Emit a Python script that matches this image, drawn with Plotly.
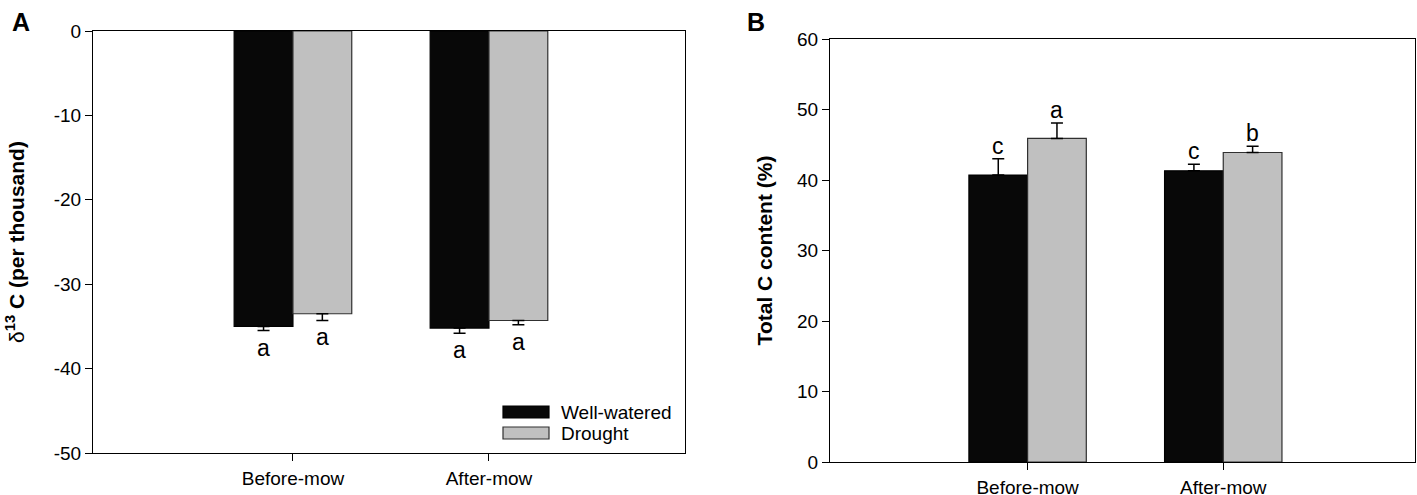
import plotly.graph_objects as go

# data
periods = ["Before-mow", "After-mow"]
treatments = ["Well-watered", "Drought"]

d13c_well = [-35.0, -35.2]
d13c_well_err = [0.5, 0.6]
d13c_drought = [-33.5, -34.3]
d13c_drought_err = [0.8, 0.5]
d13c_letters_well = ["a", "a"]
d13c_letters_drought = ["a", "a"]
d13c_ticks = [0, -10, -20, -30, -40, -50]

totc_well = [40.7, 41.3]
totc_well_err = [2.3, 0.95]
totc_drought = [45.9, 43.9]
totc_drought_err = [2.2, 0.9]
totc_letters_well = ["c", "c"]
totc_letters_drought = ["a", "b"]
totc_ticks = [0, 10, 20, 30, 40, 50, 60]

BLACK = "#080808"
GREY = "#c0c0c0"
FONT = "Liberation Sans, Arial"
W, H = 1417, 495


def px(x):
    return x / W


def py(y):
    return 1 - y / H


xs = list(range(len(periods)))

fig = go.Figure()


def add_bars(xaxis, yaxis, well, well_err, drought, drought_err, down):
    # one-sided error bars: down for negative values, up for positive
    for vals, errs, col, line_col in [(well, well_err, BLACK, "#000000"),
                                      (drought, drought_err, GREY, "#303030")]:
        if down:
            ey = dict(type="data", symmetric=False, array=[0] * len(errs),
                      arrayminus=errs, color="black", thickness=1.5, width=6)
        else:
            ey = dict(type="data", symmetric=False, array=errs,
                      arrayminus=[0] * len(errs), color="black", thickness=1.5, width=6)
        fig.add_trace(go.Bar(
            x=xs, y=vals, error_y=ey,
            marker=dict(color=col, line=dict(color=line_col, width=1.2)),
            xaxis=xaxis, yaxis=yaxis, showlegend=False,
        ))


add_bars("x", "y", d13c_well, d13c_well_err, d13c_drought, d13c_drought_err, True)
add_bars("x2", "y2", totc_well, totc_well_err, totc_drought, totc_drought_err, False)

letter_font = dict(family=FONT, size=23, color="black")
annots = []
# significance letters
for i in xs:
    annots.append(dict(x=i - 0.15, y=d13c_well[i] - d13c_well_err[i], xref="x", yref="y",
                       text=d13c_letters_well[i], showarrow=False, yanchor="top", yshift=-2,
                       font=letter_font))
    annots.append(dict(x=i + 0.15, y=d13c_drought[i] - d13c_drought_err[i], xref="x", yref="y",
                       text=d13c_letters_drought[i], showarrow=False, yanchor="top", yshift=-2,
                       font=letter_font))
    annots.append(dict(x=i - 0.15, y=totc_well[i] + totc_well_err[i], xref="x2", yref="y2",
                       text=totc_letters_well[i], showarrow=False, yanchor="bottom", yshift=-2,
                       font=letter_font))
    annots.append(dict(x=i + 0.15, y=totc_drought[i] + totc_drought_err[i], xref="x2", yref="y2",
                       text=totc_letters_drought[i], showarrow=False, yanchor="bottom", yshift=-2,
                       font=letter_font))

# panel letters
annots.append(dict(x=px(10), y=py(6), xref="paper", yref="paper", text="<b>A</b>",
                   showarrow=False, xanchor="left", yanchor="top",
                   font=dict(family=FONT, size=25, color="black")))
annots.append(dict(x=px(745), y=py(6), xref="paper", yref="paper", text="<b>B</b>",
                   showarrow=False, xanchor="left", yanchor="top",
                   font=dict(family=FONT, size=25, color="black")))

# legend drawn by hand inside panel A (wide swatches)
shapes = []
legend_rows = [(treatments[0], BLACK, "#000000", 412),
               (treatments[1], GREY, "#303030", 433)]
for name, col, lc, yc in legend_rows:
    shapes.append(dict(type="rect", xref="paper", yref="paper",
                       x0=px(503), x1=px(549), y0=py(yc + 6), y1=py(yc - 6),
                       fillcolor=col, line=dict(color=lc, width=1.2)))
    annots.append(dict(x=px(559), y=py(yc), xref="paper", yref="paper", text=name,
                       showarrow=False, xanchor="left", yanchor="middle",
                       font=dict(family=FONT, size=19, color="black")))

axis_common = dict(showline=True, linecolor="black", linewidth=1.2, mirror=True,
                   showgrid=False, zeroline=False, ticks="outside", ticklen=7,
                   tickcolor="black", tickwidth=1.2, automargin=False,
                   tickfont=dict(family=FONT, size=19, color="black"))

fig.update_layout(
    width=W, height=H,
    margin=dict(l=0, r=0, t=0, b=0),
    paper_bgcolor="white", plot_bgcolor="white",
    barmode="group", bargap=0.4, bargroupgap=0,
    showlegend=False,
    xaxis=dict(domain=[px(93), px(685)], range=[-1.02, 2.0],
               tickvals=xs, ticktext=periods, anchor="y", ticklabelstandoff=1,
               **axis_common),
    yaxis=dict(domain=[py(453), py(31)], range=[-50, 0],
               tickvals=d13c_ticks, ticktext=[str(t) for t in d13c_ticks],
               anchor="x",
               title=dict(text="δ<sup><b>13</b></sup><b> C (per thousand)</b>", standoff=23,
                          font=dict(family=FONT, size=21, color="black")),
               **axis_common),
    xaxis2=dict(domain=[px(830), px(1415)], range=[-1.01, 1.98],
                tickvals=xs, ticktext=periods, anchor="y2", ticklabelstandoff=1,
                **axis_common),
    yaxis2=dict(domain=[py(462), py(39)], range=[0, 60],
                tickvals=totc_ticks, ticktext=[str(t) for t in totc_ticks],
                anchor="x2",
                title=dict(text="<b>Total C content (%)</b>", standoff=18,
                           font=dict(family=FONT, size=21, color="black")),
                **axis_common),
    annotations=annots,
    shapes=shapes,
)

# drop the default body margin so the 1417x495 figure fills the window exactly
fig.write_html("out.html", config={"displayModeBar": False},
               post_script="document.body.style.margin='0';")
